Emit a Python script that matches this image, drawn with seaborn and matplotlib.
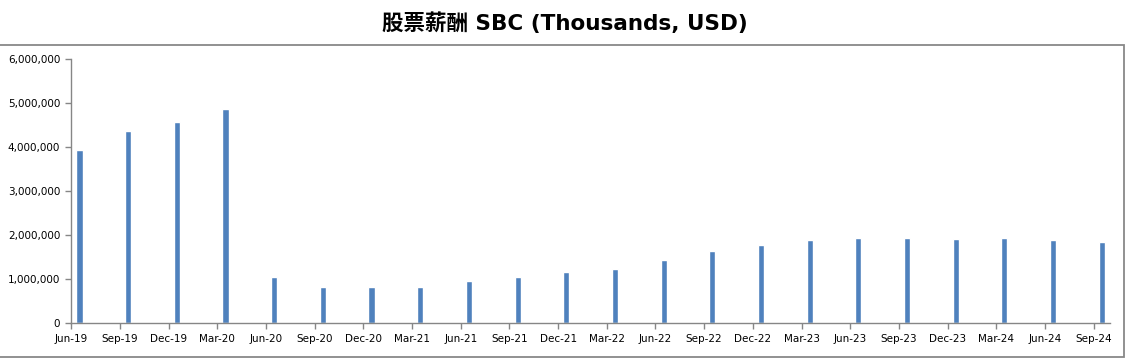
import matplotlib
matplotlib.use("Agg")
import matplotlib.pyplot as plt
from matplotlib.patches import Rectangle
from matplotlib.ticker import FuncFormatter
import seaborn as sns
import pandas as pd

quarters = ["Jun-19", "Sep-19", "Dec-19", "Mar-20", "Jun-20", "Sep-20", "Dec-20", "Mar-21",
            "Jun-21", "Sep-21", "Dec-21", "Mar-22", "Jun-22", "Sep-22", "Dec-22", "Mar-23",
            "Jun-23", "Sep-23", "Dec-23", "Mar-24", "Jun-24", "Sep-24"]
sbc = [3950000, 4360000, 4585000, 4860000, 1055000, 830000, 830000, 830000,
       965000, 1055000, 1170000, 1240000, 1445000, 1645000, 1785000, 1895000,
       1945000, 1945000, 1925000, 1945000, 1895000, 1855000]
title = "股票薪酬 SBC (Thousands, USD)"

sns.set_theme(style="white")
plt.rcParams['font.family'] = ['DejaVu Sans', 'Noto Sans CJK SC']

dates = pd.to_datetime(quarters, format="%b-%y")
month_idx = (dates.year - 2019) * 12 + (dates.month - 6)
df = pd.DataFrame({"month": month_idx + 0.5, "sbc": sbc, "label": quarters})

fig = plt.figure(figsize=(11.29, 3.63), dpi=100)
ax = fig.add_axes([0.0632, 0.1094, 0.9198, 0.7272])

sns.barplot(data=df, x="month", y="sbc", native_scale=True, width=0.125,
            color="#4F81BD", saturation=1, ax=ax, errorbar=None)

ax.set_xlim(0, 64)
ax.set_ylim(0, 6000000)
ax.set_xticks(list(month_idx))
ax.set_xticklabels(quarters)
ax.set_yticks(range(0, 6000001, 1000000))
ax.yaxis.set_major_formatter(FuncFormatter(lambda v, p: f"{int(v):,}"))
ax.set_xlabel("")
ax.set_ylabel("")

for s in ["top", "right"]:
    ax.spines[s].set_visible(False)
for s in ["left", "bottom"]:
    ax.spines[s].set_color("#868686")
    ax.spines[s].set_linewidth(1)
ax.tick_params(axis="both", which="major", direction="out", length=4, width=1,
               color="#868686", labelsize=7.5, labelcolor="#000000", pad=4,
               left=True, bottom=True)
ax.grid(False)

fig.patches.append(Rectangle((-0.01, 0.017), 1.006, 0.859, transform=fig.transFigure,
                             fill=False, edgecolor="#888888", linewidth=1.3))

fig.text(0.5, 0.935, title, ha="center", va="center", fontsize=15.5, fontweight="bold",
         color="#000000", family=["DejaVu Sans", "Noto Sans CJK SC"])

fig.savefig("out.png", dpi=100)
